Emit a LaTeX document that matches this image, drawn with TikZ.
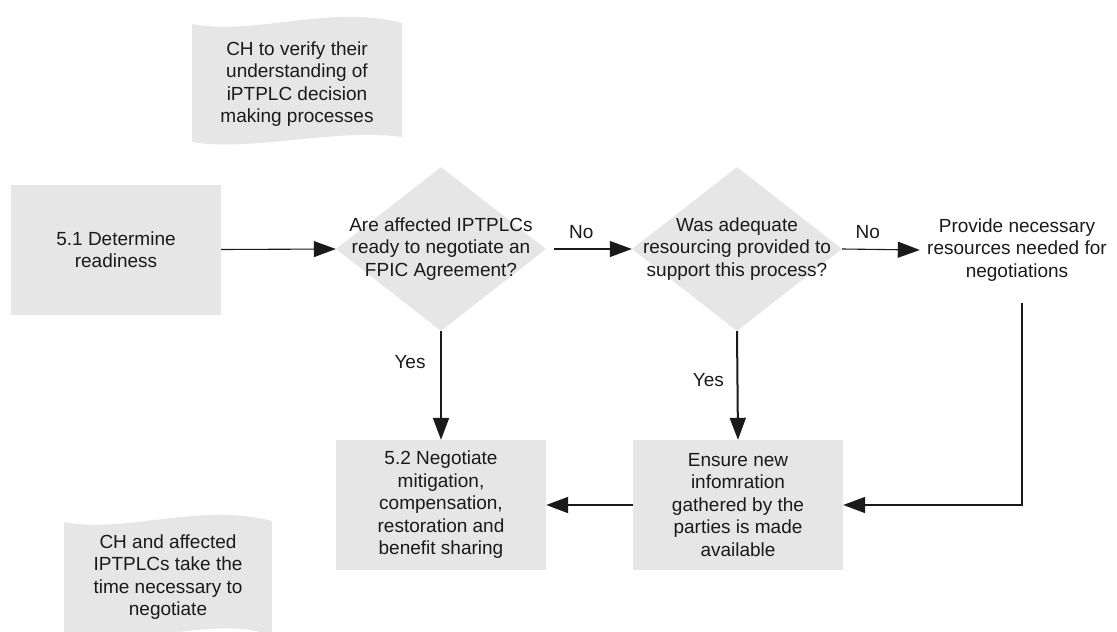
\documentclass[tikz,border=0pt]{standalone}
\usepackage{fontspec}
\setmainfont{Liberation Sans}
\usetikzlibrary{shapes.geometric,arrows.meta}
\definecolor{boxgray}{HTML}{E6E6E6}
\definecolor{ink}{HTML}{1A1A1A}

\begin{document}
\begin{tikzpicture}[x=1pt,y=-1pt,
  every node/.style={font=\fontsize{19}{22.5}\selectfont, text=ink, align=center},
  procbox/.style={rectangle, fill=boxgray, minimum width=210pt, minimum height=130pt, inner sep=0pt},
  decision/.style={diamond, fill=boxgray, minimum width=210pt, minimum height=164pt, inner sep=0pt},
  plain/.style={inner sep=0pt},
  branch/.style={inner sep=0pt},
  flow/.style={draw=ink, line width=1.1pt, -{Triangle[length=22pt,width=16pt]}},
  heavy flow/.style={flow, line width=2pt},
  loop flow/.style={flow, line width=1.6pt}
]
\useasboundingbox (0,0) rectangle (1117,632);

% wavy note shapes
\fill[boxgray] (192,24) .. controls (255,36) and (330,4) .. (402,23)
  -- (402,137) .. controls (335,128) and (250,152) .. (192,142) -- cycle;
\fill[boxgray] (64,522) .. controls (125,534) and (200,502) .. (272,521)
  -- (272,636) .. controls (220,614) and (140,648) .. (64,636) -- cycle;

\node[plain] (verify) at (297,84) {CH to verify their\\understanding of\\iPTPLC decision\\making processes};
\node[plain] (taketime) at (168,577) {CH and affected\\IPTPLCs take the\\time necessary to\\negotiate};

% process boxes
\node[procbox] (readiness) at (116,249.5) {5.1 Determine\\readiness};
\node[procbox] (negotiate) at (441,505) {5.2 Negotiate\\mitigation,\\compensation,\\restoration and\\benefit sharing};
\node[procbox] (ensure) at (738,505) {Ensure new\\infomration\\gathered by the\\parties is made\\available};

% decisions
\node[decision] (q1) at (441,249) {};
\node[plain] (q1text) at (q1) {Are affected IPTPLCs\\ready to negotiate an\\FPIC Agreement?};
\node[decision] (q2) at (737,249) {};
\node[plain] (q2text) at (q2) {Was adequate\\resourcing provided to\\support this process?};

% plain text step
\node[plain, minimum width=194pt, minimum height=106pt] (provide) at (1017,250)
  {Provide necessary\\resources needed for\\negotiations};

% connectors
\draw[flow] (readiness.east) -- (q1.west);
\draw[flow] ([xshift=8pt]q1.east) -- node[branch, pos=0.35, yshift=17pt] (no1) {No} (q2.west);
\draw[flow] (q2.east) -- node[branch, pos=0.33, yshift=17pt] (no2) {No} (provide.west);
\draw[heavy flow] (q1.south) -- node[branch, pos=0.28, xshift=-31pt] (yes1) {Yes} (negotiate.north);
\draw[heavy flow] (q2.south) -- node[branch, pos=0.45, xshift=-29pt] (yes2) {Yes} (ensure.north);
\draw[heavy flow] (ensure.west) -- (negotiate.east);
\draw[loop flow] ([xshift=5pt]provide.south) |- (ensure.east);
\end{tikzpicture}
\end{document}
